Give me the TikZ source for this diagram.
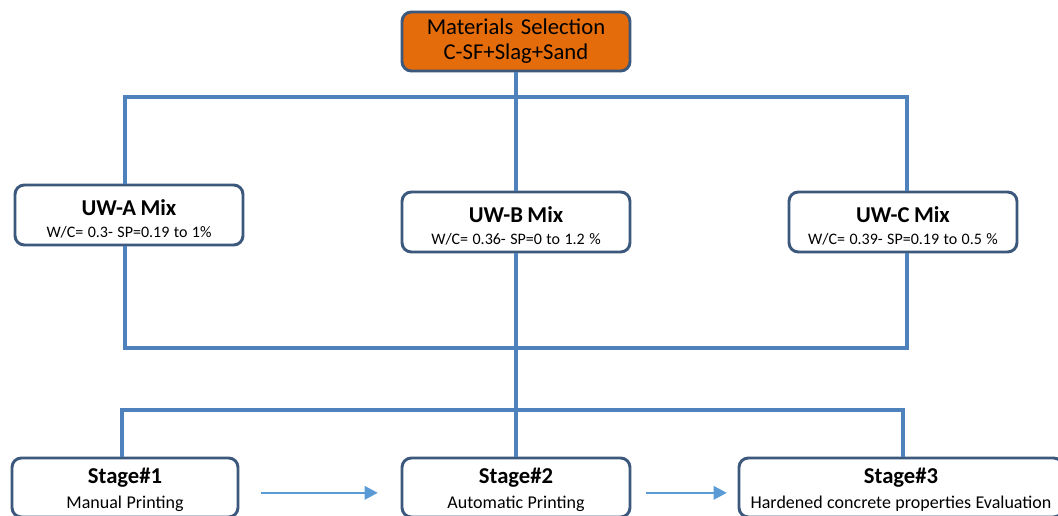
\documentclass[tikz,border=0pt]{standalone}
\usepackage{fontspec}
\setmainfont{Carlito}
\usetikzlibrary{arrows.meta}
\definecolor{linkblue}{RGB}{79,129,189}
\definecolor{edgeblue}{RGB}{60,88,124}
\definecolor{arrowblue}{RGB}{91,155,213}
\definecolor{selorange}{RGB}{228,108,10}
\newcommand{\mixtext}[2]{{\fontsize{17}{19}\selectfont\bfseries\rule{0pt}{18pt}#1\par}{\fontsize{12}{17}\selectfont #2\par}}
\newcommand{\stagetext}[2]{{\fontsize{17}{19}\selectfont\bfseries\rule{0pt}{15pt}#1\par}{\fontsize{13.5}{18.3}\selectfont #2\par}}
\begin{document}
\begin{tikzpicture}[x=0.75pt,y=-0.75pt,
  box/.style={draw=edgeblue,line width=2.2pt,rounded corners=7pt,fill=white,inner sep=0pt,align=center,minimum height=45pt,minimum width=171pt,text width=171pt},
  link/.style={draw=linkblue,line width=3pt},
  flow/.style={draw=arrowblue,line width=2pt,-{Triangle[length=10pt,width=10pt]}}]
\useasboundingbox (0,0) rectangle (1058,515);
\clip (0,0) rectangle (1058,515);
\node[box,fill=selorange,minimum height=44.25pt,font=\fontsize{17}{18.75}\selectfont] (ms) at (516,41.5) {Materials Selection\par C-SF+Slag+Sand\par};
\node[box] (ua) at (129,215) {\mixtext{UW-A Mix}{W/C= 0.3- SP=0.19 to 1\%}};
\node[box] (ub) at (516,222) {\mixtext{UW-B Mix}{W/C= 0.36- SP=0 to 1.2 \%}};
\node[box] (uc) at (903,222) {\mixtext{UW-C Mix}{W/C= 0.39- SP=0.19 to 0.5 \%}};
\node[box,minimum height=44.25pt,minimum width=169.5pt,text width=169.5pt] (sa) at (125,487.5) {\stagetext{Stage\#1}{Manual Printing}};
\node[box,minimum height=44.25pt] (sb) at (516,487.5) {\stagetext{Stage\#2}{Automatic Printing}};
\node[box,minimum height=44.25pt,minimum width=243pt,text width=243pt] (sc) at (901,487.5) {\stagetext{Stage\#3}{Hardened concrete properties Evaluation}};
\coordinate (ja) at (125,97); \coordinate (jc) at (907,97);
\coordinate (ka) at (125,348); \coordinate (kc) at (907,348);
\coordinate (la) at (122,410); \coordinate (lc) at (903,410);
\draw[link] (ua.north -| ja) -- (ja) -- (jc) -- (uc.north -| jc);
\draw[link] (ua.south -| ka) -- (ka) -- (kc) -- (uc.south -| kc);
\draw[link] (sa.north -| la) -- (la) -- (lc) -- (sc.north -| lc);
\draw[link] (ms) -- (ub);
\draw[link] (ub) -- (sb);
\draw[flow,shorten <=16.5pt,shorten >=17pt] ([yshift=-4pt]sa.east) -- ([yshift=-4pt]sb.west);
\draw[flow,shorten <=11pt,shorten >=8pt] ([yshift=-4pt]sb.east) -- ([yshift=-4pt]sc.west);
\end{tikzpicture}
\end{document}
